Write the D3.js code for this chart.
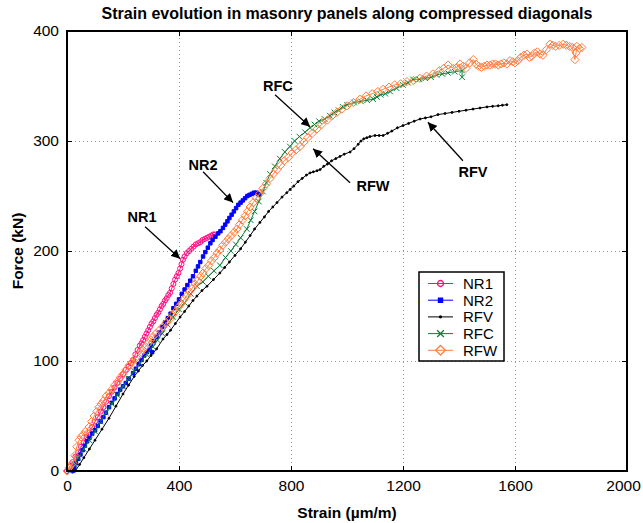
<!DOCTYPE html>
<html>
<head>
<meta charset="utf-8">
<script src="https://cdn.jsdelivr.net/npm/d3@7"></script>
<style>
  body { margin: 0; background: #fff; }
  svg text { font-family: "Liberation Sans", Arial, Helvetica, sans-serif; }
  .grid line { stroke: #999; stroke-dasharray: 1,3; }
  .grid path { display: none; }
  .tick text { font-size: 15.5px; }
</style>
</head>
<body>
<div id="chart"></div>
<script>
// Tick values
const xTicks = [0, 400, 800, 1200, 1600, 2000]
const yTicks = [0, 100, 200, 300, 400]

// Series data [strain, force]
const nr1 = [[0,0],[10,4],[20,8],[30,13],[40,17],[50,22],[60,26],[70,31],[80,35],[90,40],[100,45],[110,49],[120,54],[130,58],[140,63],[150,68],[160,72],[170,76],[180,80],[190,84],[200,88],[210,92],[220,95],[228,98],[236,101],[244,106],[252,110],[260,114],[266,116],[272,119],[278,122],[284,125],[290,128],[296,131],[302,134],[308,136],[314,139],[320,142],[326,144],[332,147],[338,150],[344,152],[350,155],[356,157],[362,160],[368,162],[374,166],[380,170],[386,174],[392,177],[398,180],[404,184],[409,188],[414,192],[420,195],[428,198],[436,200],[444,202],[452,204],[460,206],[468,207],[476,208],[484,210],[492,211],[500,212],[508,213],[516,214],[522,215],[528,215]]

const nr2 = [[20,0],[26,3],[32,7],[40,11],[48,15],[56,19],[64,23],[72,27],[80,30],[90,34],[100,37],[110,41],[120,45],[130,49],[139,53],[150,58],[160,62],[170,66],[180,70],[190,74],[200,77],[210,80],[220,84],[236,89],[246,93],[256,97],[266,101],[276,105],[285,108],[293,110],[304,108],[300,114],[310,118],[320,122],[330,126],[340,131],[350,135],[360,139],[370,143],[380,148],[390,152],[400,156],[410,161],[420,165],[430,169],[440,173],[450,177],[460,182],[468,186],[476,190],[486,195],[494,199],[503,203],[512,207],[520,210],[530,213],[540,216],[548,218],[557,221],[565,224],[573,227],[580,230],[588,233],[596,236],[604,239],[612,242],[620,244],[628,246],[636,248],[644,250],[652,251],[660,252],[668,253],[676,253],[682,252],[685,251]]

const rfv = [[30,0],[45,6],[60,12],[80,20],[100,28],[125,38],[150,48],[175,59],[200,70],[220,78],[240,86],[255,91],[270,96],[285,100],[300,105],[320,111],[343,120],[357,124],[370,128],[387,134],[404,140],[420,145],[435,150],[450,155],[464,159],[482,164],[500,168],[523,174],[546,180],[563,185],[580,190],[600,196],[620,202],[637,208],[654,214],[670,220],[689,226],[705,231],[720,236],[735,240],[750,244],[768,249],[785,253],[797,256],[810,259],[825,263],[840,266],[855,269],[868,271],[880,272],[893,273],[904,274],[917,277],[930,279],[945,282],[960,284],[975,286],[990,288],[1011,290],[1025,293],[1040,297],[1050,300],[1060,302],[1071,303],[1082,304],[1100,305],[1115,305],[1129,305],[1145,307],[1160,309],[1180,312],[1200,314],[1220,316],[1240,318],[1261,320],[1280,321],[1300,322],[1325,324],[1350,325],[1375,326],[1400,327],[1425,328],[1450,329],[1475,330],[1500,331],[1520,331.5],[1540,332],[1555,332.5],[1571,333]]

const rfc = [[10,0],[25,6],[40,12],[60,20],[80,28],[100,36],[120,45],[139,53],[160,61],[180,69],[200,77],[220,84],[240,91],[261,98],[284,106],[307,113],[323,119],[340,125],[360,133],[379,140],[400,147],[420,153],[442,161],[464,168],[485,172],[505,177],[525,182],[546,187],[566,194],[585,200],[603,206],[620,212],[642,220],[656,228],[670,236],[685,245],[700,254],[712,262],[725,270],[742,277],[760,284],[778,290],[796,295],[813,300],[830,304],[850,308],[868,312],[884,315],[900,318],[920,320],[939,323],[955,326],[970,328],[985,331],[1000,333],[1025,335],[1050,336],[1072,337],[1093,338],[1107,340],[1120,342],[1137,343],[1154,345],[1177,348],[1200,351],[1218,353],[1236,356],[1258,356],[1280,357],[1300,358],[1320,360],[1340,361],[1360,362],[1385,363],[1411,364],[1411,358]]

const rfw = [[0,0],[8,3],[15,6],[21,7],[28,14],[35,22],[43,28],[50,31],[58,33],[66,36],[79,40],[88,45],[97,50],[106,54],[114,58],[122,61],[131,64],[140,68],[150,71],[160,74],[170,78],[180,81],[190,85],[200,88],[211,92],[222,96],[233,99],[243,102],[252,104],[262,107],[271,110],[280,113],[290,116],[299,119],[307,122],[318,125],[330,128],[342,131],[355,135],[368,138],[378,142],[388,145],[398,149],[408,152],[418,156],[427,159],[437,163],[447,166],[457,170],[467,173],[477,177],[486,180],[496,184],[506,187],[516,191],[526,194],[536,198],[546,201],[556,205],[566,208],[576,211],[586,214],[597,217],[607,220],[616,224],[626,228],[636,232],[645,236],[654,240],[665,244],[676,248],[688,252],[700,257],[712,261],[725,266],[737,270],[750,274],[763,278],[776,282],[790,285],[804,289],[818,292],[832,295],[846,299],[860,303],[876,307],[893,311],[910,315],[930,319],[947,323],[964,326],[982,329],[1000,332],[1023,335],[1046,338],[1068,341],[1090,343],[1110,345],[1129,347],[1150,349],[1170,351],[1192,352],[1214,354],[1237,355],[1260,357],[1284,359],[1307,361],[1330,364],[1345,366],[1361,369],[1380,366],[1392,367],[1404,370],[1415,368],[1425,366],[1438,371],[1451,374],[1460,370],[1470,368],[1480,367],[1490,368],[1500,369],[1510,369],[1520,370],[1530,370],[1540,369],[1550,370],[1560,371],[1571,370],[1582,373],[1592,372],[1600,371],[1610,373],[1620,376],[1632,378],[1643,379],[1652,376],[1660,377],[1670,380],[1680,381],[1690,379],[1700,378],[1712,383],[1725,388],[1735,387],[1745,386],[1758,387],[1772,388],[1783,387],[1795,386],[1805,385],[1814,374],[1818,380],[1821,386],[1830,384],[1839,385]]

const seriesNames = ["NR1", "NR2", "RFV", "RFC", "RFW"]
const seriesData = [nr1, nr2, rfv, rfc, rfw]

// Annotation labels: text position and arrow from/to, in data units
const notes = [
  {name: "NR1", tx: 268, ty: 231, from: [279, 222], to: [404, 193]},
  {name: "NR2", tx: 486, ty: 278, from: [486, 272], to: [593, 244]},
  {name: "RFC", tx: 753, ty: 350, from: [743, 342], to: [868, 313]},
  {name: "RFW", tx: 1093, ty: 259, from: [1011, 262], to: [879, 293]},
  {name: "RFV", tx: 1450, ty: 272, from: [1414, 282], to: [1289, 317]}
]

const W = 643, H = 523
const padL = 67, padR = 627, padT = 31, padB = 471

// diamond = square turned 45 degrees
const diamond = {
  draw(ctx, size) {
    const r = Math.sqrt(size / 2)
    ctx.moveTo(0, -r); ctx.lineTo(r, 0); ctx.lineTo(0, r); ctx.lineTo(-r, 0); ctx.closePath()
  }
}

const styles = {
  NR1: {color: "#ff0a80", sym: d3.symbolCircle, size: 20, fill: "none"},
  NR2: {color: "#0000ff", sym: d3.symbolSquare, size: 12, fill: "#0000ff"},
  RFV: {color: "#000000", sym: d3.symbolCircle, size: 3, fill: "#000"},
  RFC: {color: "#0a7f3a", sym: d3.symbolTimes, size: 22, fill: "none"},
  RFW: {color: "#ff7f3f", sym: diamond, size: 34, fill: "none"}
}

const svg = d3.select("#chart").append("svg")
  .attr("width", W).attr("height", H)

const x = d3.scaleLinear().domain([0, 2000]).range([padL, padR])
const y = d3.scaleLinear().domain([0, 400]).range([padB, padT])

// Grid
svg.append("g").attr("class", "grid")
  .attr("transform", `translate(0,${padB})`)
  .call(d3.axisBottom(x).tickValues(xTicks.slice(1, -1)).tickSize(-(padB - padT)).tickFormat(""))
svg.append("g").attr("class", "grid")
  .attr("transform", `translate(${padL},0)`)
  .call(d3.axisLeft(y).tickValues(yTicks.slice(1, -1)).tickSize(-(padR - padL)).tickFormat(""))

// Series
const line = d3.line().x(d => x(d[0])).y(d => y(d[1]))
seriesNames.forEach((name, i) => {
  const s = styles[name]
  const data = seriesData[i]
  svg.append("path").datum(data)
    .attr("d", line)
    .attr("fill", "none")
    .attr("stroke", s.color)
    .attr("stroke-width", 1)
  svg.append("g").selectAll("path")
    .data(data)
    .enter().append("path")
    .attr("d", d3.symbol().type(s.sym).size(s.size))
    .attr("transform", d => `translate(${x(d[0])},${y(d[1])})`)
    .attr("fill", s.fill)
    .attr("stroke", s.color)
    .attr("stroke-width", 1)
})

// Axes with inward ticks
const fmt = d3.format("d")
const xAxis = svg.append("g").attr("transform", `translate(0,${padB})`)
  .call(d3.axisBottom(x).tickValues(xTicks).tickFormat(fmt).tickSize(-5).tickSizeOuter(0).tickPadding(9))
const yAxis = svg.append("g").attr("transform", `translate(${padL},0)`)
  .call(d3.axisLeft(y).tickValues(yTicks).tickFormat(fmt).tickSize(-5).tickSizeOuter(0).tickPadding(8))
svg.append("g").attr("transform", `translate(0,${padT})`)
  .call(d3.axisTop(x).tickValues(xTicks).tickSize(-5).tickSizeOuter(0).tickFormat(""))
svg.append("g").attr("transform", `translate(${padR},0)`)
  .call(d3.axisRight(y).tickValues(yTicks).tickSize(-5).tickSizeOuter(0).tickFormat(""))
svg.selectAll(".domain").remove()
svg.selectAll(".tick line").filter(function () { return !this.closest(".grid") })
  .attr("stroke", "#000").attr("stroke-width", 1)
xAxis.selectAll("text").attr("fill", "#000")
yAxis.selectAll("text").attr("fill", "#000")
// last x label sits at the window edge, nudge it in
xAxis.selectAll(".tick text").filter(d => d === 2000).attr("dx", -4)

// Frame
svg.append("rect")
  .attr("x", padL).attr("y", padT)
  .attr("width", padR - padL).attr("height", padB - padT)
  .attr("fill", "none").attr("stroke", "#000").attr("stroke-width", 2)

// Arrow marker
svg.append("defs").append("marker")
  .attr("id", "arrow")
  .attr("viewBox", "0 0 10 10")
  .attr("refX", 10).attr("refY", 5)
  .attr("markerWidth", 9).attr("markerHeight", 9)
  .attr("markerUnits", "userSpaceOnUse")
  .attr("orient", "auto")
  .append("path").attr("d", "M0,0L10,5L0,10z").attr("fill", "#000")

// Annotations
notes.forEach(n => {
  svg.append("line")
    .attr("x1", x(n.from[0])).attr("y1", y(n.from[1]))
    .attr("x2", x(n.to[0])).attr("y2", y(n.to[1]))
    .attr("stroke", "#000").attr("stroke-width", 1.3)
    .attr("marker-end", "url(#arrow)")
  svg.append("text")
    .attr("x", x(n.tx)).attr("y", y(n.ty))
    .attr("dy", "0.35em")
    .attr("text-anchor", "middle")
    .attr("font-size", 14.5).attr("font-weight", "bold")
    .text(n.name)
})

// Legend
const lg = svg.append("g").attr("transform", "translate(419,272)")
lg.append("rect").attr("width", 85).attr("height", 89)
  .attr("fill", "#fff").attr("stroke", "#000").attr("stroke-width", 1.5)
seriesNames.forEach((name, i) => {
  const s = styles[name]
  const ly = 11.5 + i * 16.7
  lg.append("line").attr("x1", 9).attr("x2", 34).attr("y1", ly).attr("y2", ly)
    .attr("stroke", s.color).attr("stroke-width", 1)
  lg.append("path")
    .attr("d", d3.symbol().type(s.sym).size(name === "RFV" ? 3 : s.size * 1.4))
    .attr("transform", `translate(21.5,${ly})`)
    .attr("fill", s.fill).attr("stroke", s.color).attr("stroke-width", 1.3)
  lg.append("text").attr("x", 44).attr("y", ly).attr("dy", "0.36em")
    .attr("font-size", 15).text(name)
})

// Title and axis labels
svg.append("text").attr("x", (padL + padR) / 2).attr("y", 19)
  .attr("text-anchor", "middle").attr("font-size", 16).attr("font-weight", "bold")
  .text("Strain evolution in masonry panels along compressed diagonals")
svg.append("text").attr("x", (padL + padR) / 2).attr("y", 518)
  .attr("text-anchor", "middle").attr("font-size", 15.5).attr("font-weight", "bold")
  .text("Strain (µm/m)")
svg.append("text")
  .attr("transform", `translate(23,${(padT + padB) / 2}) rotate(-90)`)
  .attr("text-anchor", "middle").attr("font-size", 15.5).attr("font-weight", "bold")
  .text("Force (kN)")
</script>
</body>
</html>
